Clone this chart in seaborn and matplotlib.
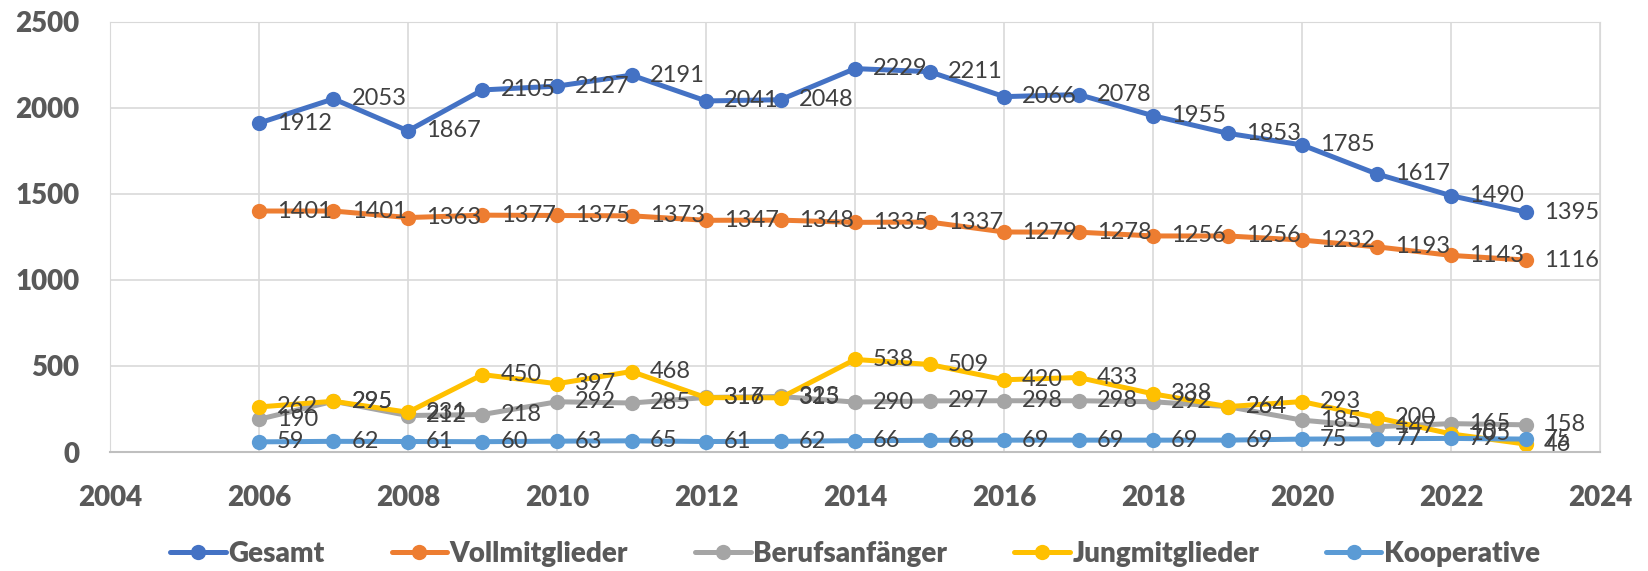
import pandas as pd
import matplotlib
matplotlib.use("Agg")
import matplotlib.pyplot as plt
import seaborn as sns

jahre = list(range(2006, 2024))
gesamt = [1912, 2053, 1867, 2105, 2127, 2191, 2041, 2048, 2229, 2211, 2066, 2078, 1955, 1853, 1785, 1617, 1490, 1395]
vollmitglieder = [1401, 1401, 1363, 1377, 1375, 1373, 1347, 1348, 1335, 1337, 1279, 1278, 1256, 1256, 1232, 1193, 1143, 1116]
berufsanfaenger = [190, 295, 212, 218, 292, 285, 317, 323, 290, 297, 298, 298, 292, 264, 185, 147, 165, 158]
jungmitglieder = [262, 295, 231, 450, 397, 468, 316, 315, 538, 509, 420, 433, 338, 264, 293, 200, 105, 46]
kooperative = [59, 62, 61, 60, 63, 65, 61, 62, 66, 68, 69, 69, 69, 69, 75, 77, 79, 75]

serien = ["Gesamt", "Vollmitglieder", "Berufsanfänger", "Jungmitglieder", "Kooperative"]
farben = ["#4472C4", "#ED7D31", "#A5A5A5", "#FFC000", "#5B9BD5"]

df = pd.DataFrame({
    "Jahr": jahre * 5,
    "Serie": sum([[s] * len(jahre) for s in serien], []),
    "Wert": gesamt + vollmitglieder + berufsanfaenger + jungmitglieder + kooperative,
})

sns.set_style("white")
plt.rcParams["font.family"] = ["Lato", "DejaVu Sans"]

fig = plt.figure(figsize=(16.48, 5.71), dpi=100)
ax = fig.add_axes([0.0667, 0.2084, 0.9043, 0.7531])

sns.lineplot(data=df, x="Jahr", y="Wert", hue="Serie", hue_order=serien,
             palette=farben, marker="o", markersize=11, markeredgewidth=0,
             linewidth=3.6, ax=ax, legend=True)

# Datenbeschriftungen rechts neben den Punkten
for s in serien:
    sub = df[df["Serie"] == s]
    for x, y in zip(sub["Jahr"], sub["Wert"]):
        ax.annotate(str(y), (x, y), xytext=(13, 0), textcoords="offset points",
                    ha="left", va="center", fontsize=17, color="#404040", zorder=5)

ax.set_xlim(2004, 2024)
ax.set_ylim(0, 2500)
ax.set_xticks(range(2004, 2025, 2))
ax.set_yticks(range(0, 2501, 500))
ax.grid(True, color="#D9D9D9", linewidth=1.2)
ax.set_axisbelow(True)
for sp in ax.spines.values():
    sp.set_color("#D9D9D9")
ax.spines["bottom"].set_color("#BFBFBF")
ax.spines["bottom"].set_linewidth(1.5)
ax.tick_params(axis="both", length=0, labelsize=20, labelcolor="#595959")
ax.tick_params(axis="y", pad=22)
ax.tick_params(axis="x", pad=24)
for lab in ax.get_xticklabels() + ax.get_yticklabels():
    lab.set_fontweight("heavy")
ax.set_xlabel("")
ax.set_ylabel("")

handles, labels = ax.get_legend_handles_labels()
ax.get_legend().remove()
fig.legend(handles, labels, loc="center", bbox_to_anchor=(0.519, 0.03), ncol=5,
           frameon=False, handlelength=2.0, columnspacing=2.4, handletextpad=0.1,
           prop={"size": 20, "weight": "heavy"}, labelcolor="#595959")

fig.savefig("out.png", dpi=100)
